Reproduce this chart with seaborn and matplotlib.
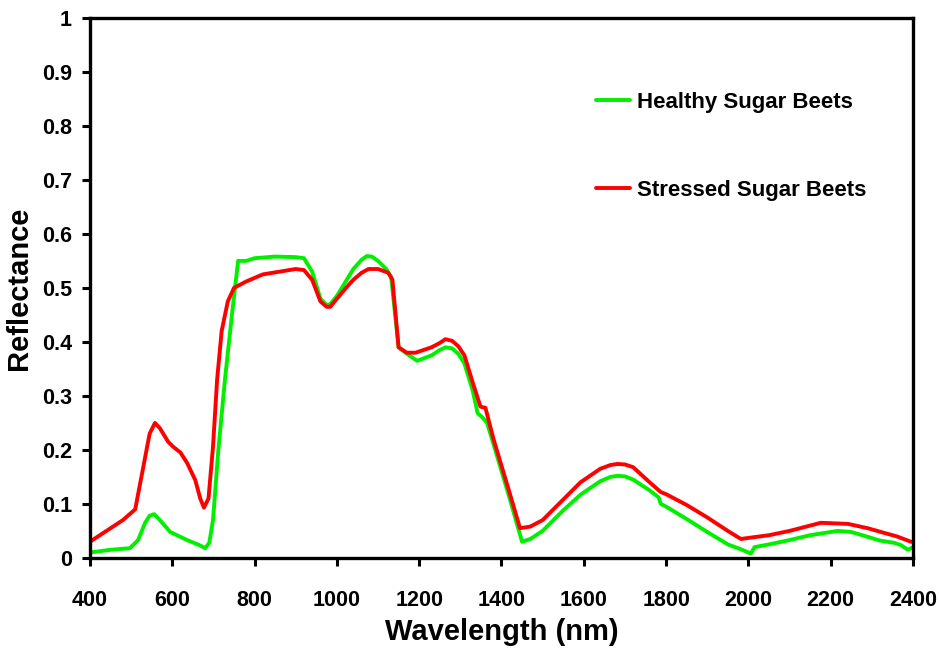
import matplotlib
matplotlib.use('Agg')
import matplotlib.pyplot as plt
import seaborn as sns
import pandas as pd
from matplotlib.ticker import FuncFormatter

# === DATA ===
healthy_nm = [400, 450, 497, 517, 534, 545, 556, 570, 595, 636, 665, 680, 690,
              699, 712, 728, 745, 760, 780, 800, 850, 900, 920, 940, 960, 975,
              984, 1000, 1020, 1040, 1060, 1073, 1085, 1100, 1120, 1132, 1150,
              1170, 1195, 1230, 1250, 1264, 1280, 1295, 1310, 1330, 1342, 1354,
              1365, 1381, 1420, 1450, 1470, 1500, 1550, 1592, 1640, 1665, 1682,
              1700, 1720, 1760, 1782, 1787, 1800, 1850, 1900, 1950, 1985, 2006,
              2015, 2050, 2100, 2150, 2217, 2250, 2290, 2320, 2354, 2370, 2388,
              2400]
healthy_refl = [0.010, 0.015, 0.018, 0.033, 0.065, 0.078, 0.081, 0.070, 0.048,
                0.033, 0.024, 0.018, 0.028, 0.070, 0.200, 0.330, 0.450, 0.550,
                0.550, 0.555, 0.558, 0.557, 0.555, 0.530, 0.480, 0.468, 0.470,
                0.485, 0.510, 0.535, 0.552, 0.559, 0.558, 0.550, 0.535, 0.520,
                0.390, 0.378, 0.365, 0.375, 0.385, 0.390, 0.388, 0.378, 0.360,
                0.310, 0.268, 0.260, 0.250, 0.210, 0.110, 0.030, 0.035, 0.050,
                0.088, 0.117, 0.142, 0.150, 0.152, 0.151, 0.145, 0.125, 0.112,
                0.100, 0.095, 0.072, 0.048, 0.025, 0.015, 0.008, 0.020, 0.025,
                0.033, 0.042, 0.050, 0.048, 0.039, 0.032, 0.028, 0.024, 0.015,
                0.020]

stressed_nm = [400, 430, 460, 480, 510, 530, 545, 558, 570, 590, 602, 620, 636,
               656, 668, 677, 688, 699, 709, 720, 735, 750, 780, 820, 860, 900,
               920, 940, 960, 975, 984, 1000, 1020, 1040, 1060, 1077, 1100, 1125,
               1135, 1150, 1170, 1191, 1230, 1250, 1264, 1280, 1295, 1310, 1330,
               1349, 1361, 1381, 1420, 1445, 1470, 1500, 1550, 1592, 1640, 1665,
               1682, 1700, 1720, 1760, 1787, 1800, 1850, 1900, 1950, 1982, 2000,
               2050, 2100, 2176, 2242, 2290, 2322, 2360, 2395, 2400]
stressed_refl = [0.030, 0.045, 0.060, 0.070, 0.090, 0.170, 0.230, 0.250, 0.240,
                 0.215, 0.206, 0.195, 0.176, 0.144, 0.110, 0.093, 0.110, 0.206,
                 0.330, 0.420, 0.475, 0.500, 0.512, 0.525, 0.530, 0.535, 0.533,
                 0.515, 0.475, 0.465, 0.465, 0.480, 0.498, 0.515, 0.528, 0.535,
                 0.535, 0.528, 0.515, 0.390, 0.380, 0.380, 0.390, 0.398, 0.405,
                 0.402, 0.392, 0.375, 0.325, 0.280, 0.278, 0.219, 0.120, 0.055,
                 0.058, 0.070, 0.108, 0.140, 0.165, 0.172, 0.174, 0.173, 0.168,
                 0.140, 0.122, 0.118, 0.098, 0.075, 0.050, 0.035, 0.037, 0.042,
                 0.050, 0.065, 0.063, 0.055, 0.048, 0.040, 0.030, 0.030]

series_names = ['Healthy Sugar Beets', 'Stressed Sugar Beets']
series_colors = ['#00f000', '#ff0000']

x_ticks = list(range(400, 2401, 200))
y_ticks = [round(v * 0.1, 1) for v in range(0, 11)]

# === LONG-FORM TABLE ===
df = pd.concat([
    pd.DataFrame({'Wavelength': healthy_nm, 'Reflectance': healthy_refl, 'Sample': series_names[0]}),
    pd.DataFrame({'Wavelength': stressed_nm, 'Reflectance': stressed_refl, 'Sample': series_names[1]}),
], ignore_index=True)

# === STYLE ===
sns.set_style('white')
plt.rcParams['font.family'] = ['Liberation Sans', 'DejaVu Sans']
plt.rcParams['font.weight'] = 'bold'
for key in ['text.color', 'axes.labelcolor', 'xtick.color', 'ytick.color']:
    plt.rcParams[key] = 'black'

fig = plt.figure(figsize=(9.39, 6.51), dpi=100)
ax = fig.add_axes([0.0958, 0.143, 0.8765, 0.8295])

sns.lineplot(data=df, x='Wavelength', y='Reflectance', hue='Sample',
             palette=dict(zip(series_names, series_colors)), linewidth=2.8,
             sort=False, estimator=None, ax=ax)

ax.set_xlim(400, 2400)
ax.set_ylim(0, 1)
ax.set_xticks(x_ticks)
ax.set_yticks(y_ticks)
ax.yaxis.set_major_formatter(FuncFormatter(lambda v, p: f'{v:g}'))

for side in ['left', 'bottom', 'top', 'right']:
    ax.spines[side].set_visible(True)
    ax.spines[side].set_color('black')
    ax.spines[side].set_linewidth(2.4)

ax.tick_params(axis='both', which='major', direction='out', length=6, width=2.2,
               labelsize=15.5, color='black', left=True, bottom=True)
ax.tick_params(axis='x', pad=17)
ax.tick_params(axis='y', pad=7)
for lab in ax.get_xticklabels() + ax.get_yticklabels():
    lab.set_fontweight('bold')

ax.set_xlabel('Wavelength (nm)', fontsize=21, fontweight='bold', labelpad=5)
ax.set_ylabel('Reflectance', fontsize=21, fontweight='bold', labelpad=6)

leg = ax.legend(loc='upper left', bbox_to_anchor=(0.59, 0.90), frameon=False,
                labelspacing=3.0, handlelength=1.55, handletextpad=0.3,
                prop={'size': 16, 'weight': 'bold'})
for line in leg.get_lines():
    line.set_linewidth(2.8)

fig.savefig('out.png', dpi=100)
